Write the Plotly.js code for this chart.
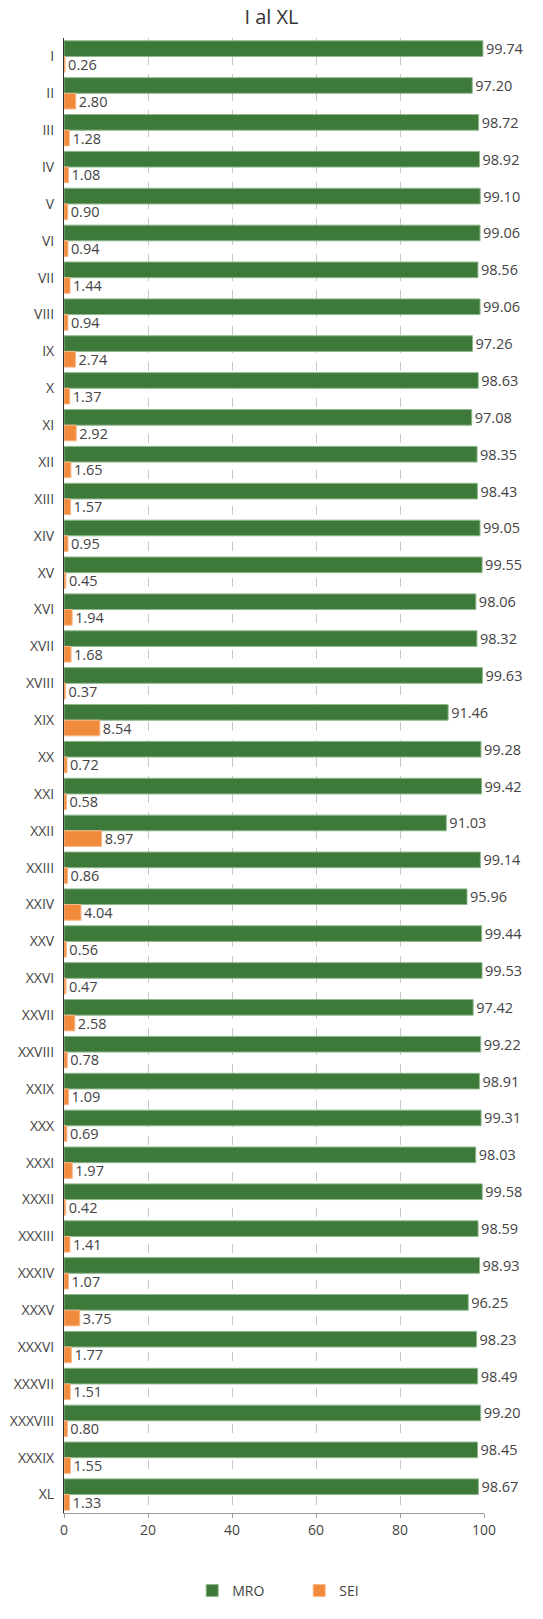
<!DOCTYPE html>
<html>
<head>
<meta charset="utf-8">
<script src="https://cdn.plot.ly/plotly-3.0.1.min.js"></script>
<style>
  body { margin: 0; background: #fff; }
  #grafica { width: 543px; height: 1619px; }
</style>
</head>
<body>
<div id="grafica"></div>
<script>
// categorías I..XL y porcentajes de cada serie
var categorias = ['I','II','III','IV','V','VI','VII','VIII','IX','X',
  'XI','XII','XIII','XIV','XV','XVI','XVII','XVIII','XIX','XX',
  'XXI','XXII','XXIII','XXIV','XXV','XXVI','XXVII','XXVIII','XXIX','XXX',
  'XXXI','XXXII','XXXIII','XXXIV','XXXV','XXXVI','XXXVII','XXXVIII','XXXIX','XL'];

var mro = [99.74, 97.20, 98.72, 98.92, 99.10, 99.06, 98.56, 99.06, 97.26, 98.63,
  97.08, 98.35, 98.43, 99.05, 99.55, 98.06, 98.32, 99.63, 91.46, 99.28,
  99.42, 91.03, 99.14, 95.96, 99.44, 99.53, 97.42, 99.22, 98.91, 99.31,
  98.03, 99.58, 98.59, 98.93, 96.25, 98.23, 98.49, 99.20, 98.45, 98.67];

var sei = [0.26, 2.80, 1.28, 1.08, 0.90, 0.94, 1.44, 0.94, 2.74, 1.37,
  2.92, 1.65, 1.57, 0.95, 0.45, 1.94, 1.68, 0.37, 8.54, 0.72,
  0.58, 8.97, 0.86, 4.04, 0.56, 0.47, 2.58, 0.78, 1.09, 0.69,
  1.97, 0.42, 1.41, 1.07, 3.75, 1.77, 1.51, 0.80, 1.55, 1.33];

var fuente = { family: 'Open Sans, sans-serif', size: 14, color: '#444' };

var traceMro = {
  type: 'bar', orientation: 'h', name: 'MRO',
  x: mro, y: categorias,
  marker: { color: '#3d7a3a', line: { color: '#8fb88c', width: 1 } },
  texttemplate: '%{x:.2f}', textposition: 'outside', cliponaxis: false,
  constraintext: 'none',
  textfont: { family: fuente.family, size: 14.5, color: '#444' },
  hoverinfo: 'x+y'
};
var traceSei = {
  type: 'bar', orientation: 'h', name: 'SEI',
  x: sei, y: categorias,
  marker: { color: '#f28a3c', line: { color: '#f7b98a', width: 1 } },
  texttemplate: '%{x:.2f}', textposition: 'outside', cliponaxis: false,
  constraintext: 'none',
  textfont: { family: fuente.family, size: 14.5, color: '#444' },
  hoverinfo: 'x+y'
};

var layout = {
  width: 543, height: 1619,
  font: fuente,
  title: { text: 'I al XL', font: { family: fuente.family, size: 20, color: '#333' }, x: 0.5, y: 0.9895, yanchor: 'middle' },
  margin: { l: 64, r: 59, t: 38, b: 104 },
  barmode: 'group', bargap: 0.15, bargroupgap: 0,
  paper_bgcolor: '#fff', plot_bgcolor: '#fff',
  xaxis: {
    range: [0, 100], dtick: 20, showgrid: true,
    gridcolor: '#c8c8c8', griddash: 'dash', gridwidth: 1,
    showline: true, linecolor: '#999', linewidth: 1, mirror: false,
    ticks: 'outside', ticklen: 4, tickcolor: '#999',
    zeroline: false, tickfont: { size: 14, color: '#444' }
  },
  yaxis: {
    autorange: 'reversed', showgrid: false,
    showline: true, linecolor: '#333', linewidth: 1,
    ticks: '', ticklabelstandoff: 6,
    tickfont: { size: 14, color: '#444' }
  },
  legend: {
    orientation: 'h', x: 0.56, xanchor: 'center', y: -0.042, yanchor: 'top',
    font: { size: 14, color: '#444' }, itemwidth: 30, entrywidth: 62
  },
  showlegend: true
};

Plotly.newPlot('grafica', [traceMro, traceSei], layout, { displayModeBar: false, staticPlot: true });
</script>
</body>
</html>
